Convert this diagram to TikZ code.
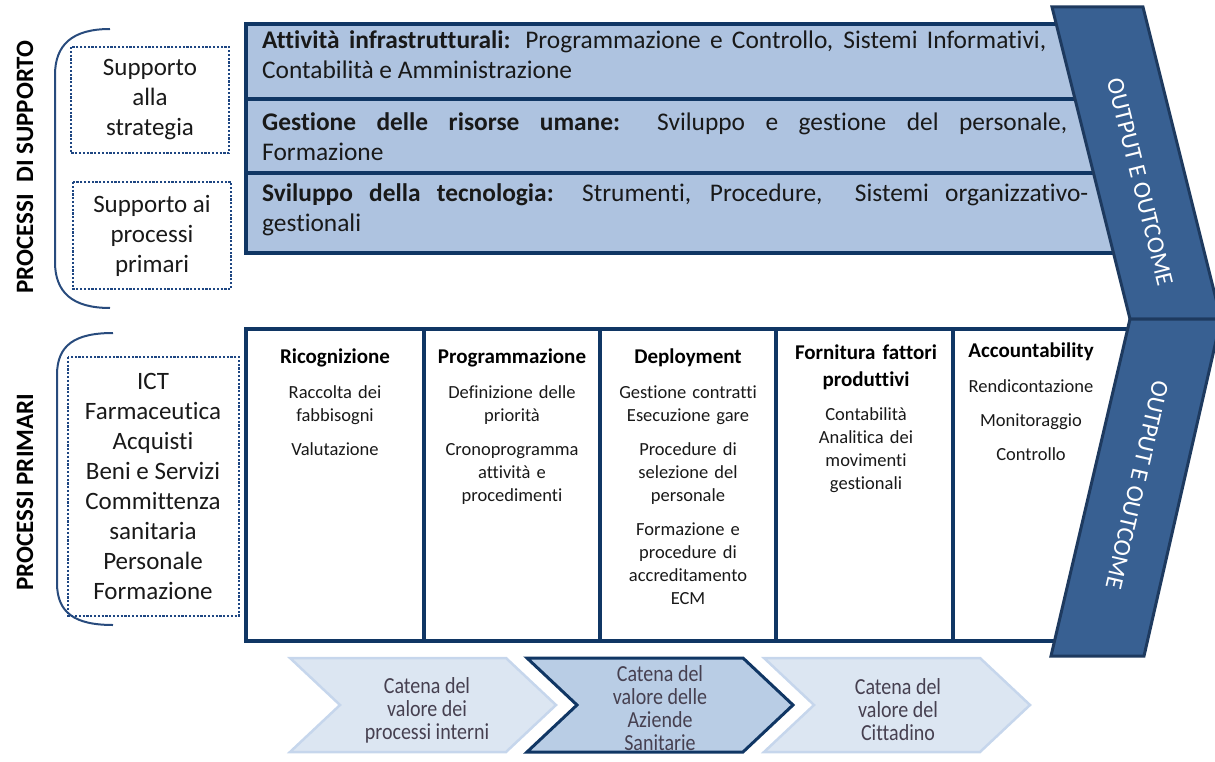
\documentclass[tikz,border=0pt]{standalone}
\usepackage{fontspec}
\usepackage{graphicx}
\setmainfont{Carlito}[Ligatures=NoCommon]
\definecolor{navy}{RGB}{16,54,100}
\definecolor{rowfill}{RGB}{174,195,224}
\definecolor{chevfill}{RGB}{56,96,146}
\definecolor{chevline}{RGB}{30,58,95}
\definecolor{brackcol}{RGB}{40,75,125}
\definecolor{dotcol}{RGB}{30,70,130}
\definecolor{lchevfill}{RGB}{220,230,242}
\definecolor{lchevline}{RGB}{198,214,236}
\definecolor{mchevfill}{RGB}{185,205,229}
\definecolor{txtgray}{RGB}{70,64,80}
\definecolor{txtdark}{RGB}{25,25,25}
\newcommand{\myfs}[2]{\fontsize{#1}{#2}\selectfont}
\newcommand{\chevlines}[1]{\scalebox{1}[1.15]{\parbox{150pt}{\centering\lineskiplimit=-100pt\myfs{20}{20}#1}}}
\begin{document}
\begin{tikzpicture}[x=1pt,y=-1pt,
  rowbox/.style={draw=navy, line width=3.5pt, fill=rowfill},
  colbox/.style={draw=navy, line width=3.5pt, fill=white},
  colline/.style={draw=navy, line width=3.5pt},
  dotbox/.style={draw=dotcol, line width=2.4pt, dash pattern=on 2.2pt off 1.6pt},
  brack/.style={draw=brackcol, line width=2pt},
  bigchev/.style={draw=chevline, line width=3pt, fill=chevfill, line join=miter},
  lightchev/.style={draw=lchevline, line width=2.5pt, fill=lchevfill},
  darkchev/.style={draw=navy, line width=3pt, fill=mchevfill},
  bartext/.style={inner sep=0pt, anchor=base west, font=\myfs{25.4}{30}, text=txtdark},
  lefttext/.style={inner sep=0pt, align=center, font=\myfs{25}{30}, text=txtdark},
  hdr/.style={inner sep=0pt, anchor=base, align=center, text width=158pt, font=\bfseries\myfs{21}{27}, text=black},
  body/.style={inner sep=0pt, anchor=base, align=center, text width=150pt, font=\myfs{18.5}{23}, text=txtdark},
  outtext/.style={inner sep=0pt, font=\myfs{24.5}{28}, text=white},
  chevtext/.style={inner sep=0pt, text=txtgray},
  sidelbl/.style={inner sep=0pt, font=\bfseries\myfs{25}{30}, text=black}
]
\useasboundingbox (0,0) rectangle (1215,762);

% support rows
\draw[rowbox] (246,24) rectangle (1140,99);
\draw[rowbox] (246,99) rectangle (1140,173);
\draw[rowbox] (246,173) rectangle (1140,253);

\node[bartext] (r1a) at (262,49) {\makebox[784pt][s]{\textbf{Attività infrastrutturali:} Programmazione e Controllo, Sistemi Informativi,}};
\node[bartext] (r1b) at (262,79) {Contabilità e Amministrazione};
\node[bartext] (r2a) at (262,131) {\makebox[805pt][s]{\textbf{Gestione delle risorse umane:} Sviluppo e gestione del personale,}};
\node[bartext] (r2b) at (262,161) {Formazione};
\node[bartext] (r3a) at (262,202) {\makebox[826pt][s]{\textbf{Sviluppo della tecnologia:} Strumenti, Procedure,\ \ Sistemi organizzativo-}};
\node[bartext] (r3b) at (262,232) {gestionali};

% primary block
\draw[colbox] (246,329) rectangle (1140,641);
\draw[colline] (424,329) -- (424,641);
\draw[colline] (600,329) -- (600,641);
\draw[colline] (776,329) -- (776,641);
\draw[colline] (953,329) -- (953,641);

\node[hdr] (h1) at (335,363) {Ricognizione};
\node[hdr] (h2) at (512,363) {Programmazione};
\node[hdr] (h3) at (688,363) {Deployment};
\node[hdr] (h4) at (866,359) {Fornitura fattori\\produttivi};
\node[hdr, text width=140pt] (h5) at (1031,357) {Accountability};

\node[body] (b1) at (335,398) {Raccolta dei\\fabbisogni\\[11pt]Valutazione};
\node[body] (b2) at (512,398) {Definizione delle\\priorità\\[11pt]Cronoprogramma\\attività e\\procedimenti};
\node[body] (b3) at (688,398) {Gestione contratti\\Esecuzione gare\\[11pt]Procedure di\\selezione del\\personale\\[11pt]Formazione e\\procedure di\\accreditamento\\ECM};
\node[body] (b4) at (866,420) {Contabilità\\Analitica dei\\movimenti\\gestionali};
\node[body, text width=140pt] (b5) at (1031,392) {Rendicontazione\\[11pt]Monitoraggio\\[11pt]Controllo};

% big chevrons
\draw[bigchev] (1052,7) -- (1143,7) -- (1221,319) -- (1130,319) -- cycle;
\draw[bigchev] (1130,319) -- (1221,319) -- (1144,656) -- (1051,656) -- cycle;
\node[outtext, rotate=-76] (o1) at (1140,182) {OUTPUT E OUTCOME};
\node[outtext, rotate=-103] (o2) at (1137,485) {OUTPUT E OUTCOME};

% left side
\node[sidelbl, rotate=90] (p1) at (25,167) {PROCESSI\ \ DI SUPPORTO};
\node[sidelbl, rotate=90] (p2) at (25,492) {PROCESSI PRIMARI};

\draw[brack] (110,29) .. controls (72,29) and (55,45) .. (55,75) -- (55,262) .. controls (55,292) and (72,308) .. (110,308);
\draw[brack] (113,333) .. controls (75,333) and (57,345) .. (57,375) -- (57,583) .. controls (57,613) and (75,625) .. (113,625);

\draw[dotbox] (71,47) rectangle (229,153);
\node[lefttext] (s1) at (150,100) {Supporto\\alla\\strategia};
\draw[dotbox] (73,182) rectangle (231,289);
\node[lefttext] (s2) at (152,236) {Supporto ai\\processi\\primari};
\draw[dotbox] (68,357) rectangle (239,616);
\node[lefttext] (s3) at (153,486) {ICT\\Farmaceutica\\Acquisti\\Beni e Servizi\\Committenza\\sanitaria\\Personale\\Formazione};

% bottom chevrons
\draw[lightchev] (290,658) -- (506,658) -- (556,705) -- (506,752) -- (290,752) -- (340,705) -- cycle;
\draw[darkchev] (527,658) -- (743,658) -- (793,705) -- (743,752) -- (527,752) -- (577,705) -- cycle;
\draw[lightchev] (764,658) -- (980,658) -- (1030,705) -- (980,752) -- (764,752) -- (814,705) -- cycle;
\node[chevtext] (c1) at (427,710) {\chevlines{Catena del\\valore dei\\processi interni}};
\node[chevtext] (c2) at (660,708) {\chevlines{Catena del\\valore delle\\Aziende\\Sanitarie}};
\node[chevtext] (c3) at (898,710) {\chevlines{Catena del\\valore del\\Cittadino}};
\end{tikzpicture}
\end{document}
